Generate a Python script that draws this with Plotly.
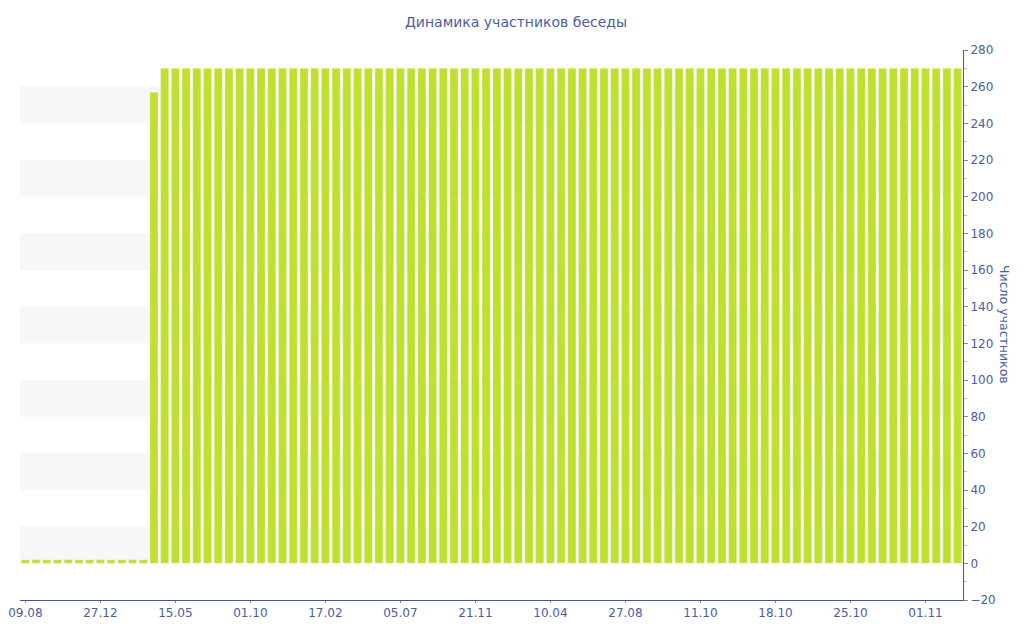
"""Динамика участников беседы"""
import plotly.graph_objects as go

# данные
snapshot_idx = list(range(88))
members = [
    2, 2, 2, 2, 2, 2, 2, 2, 2, 2, 2, 2, 257,
    270, 270, 270, 270, 270, 270, 270, 270, 270, 270, 270, 270, 270, 270, 270,
    270, 270, 270, 270, 270, 270, 270, 270, 270, 270, 270, 270, 270, 270, 270,
    270, 270, 270, 270, 270, 270, 270, 270, 270, 270, 270, 270, 270, 270, 270,
    270, 270, 270, 270, 270, 270, 270, 270, 270, 270, 270, 270, 270, 270, 270,
    270, 270, 270, 270, 270, 270, 270, 270, 270, 270, 270, 270, 270, 270, 270,
]
tick_pos = [0, 7, 14, 21, 28, 35, 42, 49, 56, 63, 70, 77, 84]
tick_labels = ["09.08", "27.12", "15.05", "01.10", "17.02", "05.07", "21.11",
               "10.04", "27.08", "11.10", "18.10", "25.10", "01.11"]

BLUE = "#4a5da5"
AXIS = "#3f57a3"
FONT = "DejaVu Sans, Verdana, sans-serif"

fig = go.Figure(go.Bar(
    x=snapshot_idx,
    y=members,
    marker=dict(color="#bee02e", line=dict(width=1, color="rgba(255,255,255,0.35)")),
    width=0.76,
    hovertemplate="%{y}<extra></extra>",
))

# полосы фона
for lo in range(0, 260, 40):
    fig.add_shape(type="rect", xref="paper", yref="y", x0=0, x1=1, y0=lo, y1=lo + 20,
                  fillcolor="#f7f7f7", line=dict(width=0), layer="below")

fig.add_annotation(text="Число участников", xref="paper", yref="paper", x=1.0445, y=0.5,
                   xanchor="center", yanchor="middle", textangle=90, showarrow=False,
                   font=dict(family=FONT, size=12.5, color=BLUE))

# страница имеет отступ 8px, поэтому фигура чуть меньше окна
fig.update_layout(
    width=1016, height=632,
    margin=dict(l=12, r=61, t=42, b=40, autoexpand=False),
    paper_bgcolor="white", plot_bgcolor="white",
    font=dict(family=FONT, size=12, color=BLUE),
    title=dict(text="Динамика участников беседы", x=0.5, xanchor="center",
               yref="container", y=0.977, yanchor="middle",
               font=dict(family=FONT, size=14, color=BLUE)),
    showlegend=False,
    xaxis=dict(
        range=[-0.5, 87.5], tickmode="array", tickvals=tick_pos, ticktext=tick_labels,
        automargin=False,
        showgrid=False, zeroline=False, showline=True, linecolor=AXIS, linewidth=1,
        ticks="outside", ticklen=2, tickcolor="#888888",
        tickfont=dict(family=FONT, size=12, color=BLUE),
    ),
    yaxis=dict(
        side="right", range=[-20, 280], dtick=20, tick0=0, automargin=False,
        showgrid=False, zeroline=False, showline=True, linecolor=AXIS, linewidth=1,
        ticks="outside", ticklen=4, tickcolor="#888888",
        minor=dict(ticks="outside", ticklen=3, dtick=10, tickcolor="#bbbbbb", showgrid=False),
        tickfont=dict(family=FONT, size=12, color=BLUE),
    ),
)

fig.write_html("out.html")
